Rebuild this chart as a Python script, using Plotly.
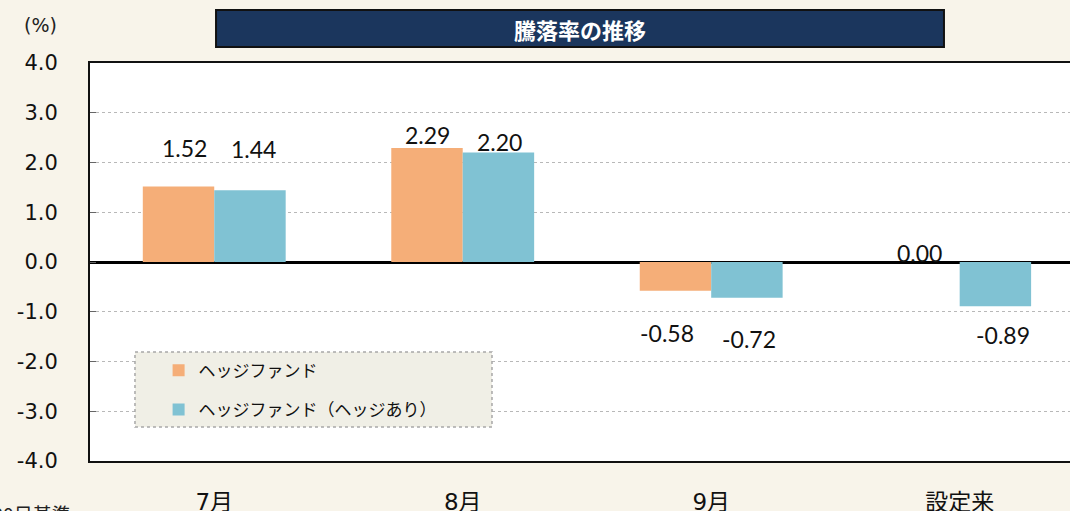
import plotly.graph_objects as go

categories = ["7月", "8月", "9月", "設定来"]
hedge_fund = [1.52, 2.29, -0.58, 0.00]
hedge_fund_hedged = [1.44, 2.20, -0.72, -0.89]
series_names = ["ヘッジファンド", "ヘッジファンド（ヘッジあり）"]
y_ticks = [-4, -3, -2, -1, 0, 1, 2, 3, 4]
y_tick_text = ["-4.0", "-3.0", "-2.0", "-1.0", "0.0", "1.0", "2.0", "3.0", "4.0"]

# label placement styles (pixel offsets)
label_dy_a = [38, 13, -42, 9]
label_dy_b = [41, 11, -41, -29]
label_dx_a = [6, 1, -8, -4]
label_dx_b = [3, 1, 2, 7]

JP = "Noto Sans CJK JP"
LAT = "DejaVu Sans, Noto Sans CJK JP"
NUM = "Lato, Noto Sans CJK JP"

fig = go.Figure()
fig.add_trace(go.Bar(x=categories, y=hedge_fund, name=series_names[0],
                     marker=dict(color="#f5ae78", line=dict(width=0)),
                     legendgroup="a"))
fig.add_trace(go.Bar(x=categories, y=hedge_fund_hedged, name=series_names[1],
                     marker=dict(color="#80c2d3", line=dict(width=0)),
                     legendgroup="b"))

ann = []
for i, c in enumerate(categories):
    ann.append(dict(x=c, y=hedge_fund[i], xref="x", yref="y", text=f"{hedge_fund[i]:.2f}",
                    showarrow=False, xanchor="center", yanchor="middle",
                    xshift=-36 + label_dx_a[i], yshift=label_dy_a[i],
                    font=dict(family=NUM, size=23, color="#111")))
    ann.append(dict(x=c, y=hedge_fund_hedged[i], xref="x", yref="y", text=f"{hedge_fund_hedged[i]:.2f}",
                    showarrow=False, xanchor="center", yanchor="middle",
                    xshift=36 + label_dx_b[i], yshift=label_dy_b[i],
                    font=dict(family=NUM, size=23, color="#111")))

ann.append(dict(x=0.5, y=1.0854, xref="paper", yref="paper", text="<b>騰落率の推移</b>",
                xanchor="center", yanchor="middle",
                showarrow=False, font=dict(family=JP, size=22, color="white")))
ann.append(dict(x=-0.051, y=1.0955, xref="paper", yref="paper", text="(%)",
                xanchor="center", yanchor="middle",
                showarrow=False, font=dict(family=LAT, size=19, color="#222")))
ann.append(dict(x=-0.0174, y=-0.094, xref="paper", yref="paper", text="9月30日基準",
                xanchor="right", yanchor="top",
                showarrow=False, font=dict(family=JP, size=19, color="#222")))
fig.update_layout(annotations=ann)

shapes = [
    dict(type="rect", xref="paper", yref="paper", x0=0.1286, x1=0.8714, y0=1.0402, y1=1.1332,
         fillcolor="#1b365d", line=dict(color="#111", width=2), layer="below"),
    dict(type="rect", xref="paper", yref="paper", x0=0.0459, x1=0.4102, y0=0.0854, y1=0.2739,
         fillcolor="#f0efe6", line=dict(color="#a8a8a8", width=1.5, dash="dot"), layer="above"),
]
fig.update_layout(shapes=shapes)

fig.update_layout(
    width=1070, height=511,
    margin=dict(l=90, r=0, t=63, b=50, autoexpand=False),
    paper_bgcolor="#f8f4ea",
    plot_bgcolor="white",
    barmode="group", bargap=0.425, bargroupgap=0,
    showlegend=True,
    legend=dict(x=0.07, y=0.272, xanchor="left", yanchor="top",
                bgcolor="rgba(0,0,0,0)", borderwidth=0,
                traceorder="grouped", tracegroupgap=14,
                font=dict(family=JP, size=17, color="#111")),
    xaxis=dict(type="category", range=[-0.5, 3.444], showline=True, linecolor="#111",
               linewidth=2, mirror=True, ticks="", showgrid=False, automargin=False,
               tickfont=dict(family=LAT, size=23, color="#111"), ticklabelstandoff=19),
    yaxis=dict(range=[-4, 4], tickvals=y_ticks, ticktext=y_tick_text, showline=True,
               linecolor="#111", linewidth=2, ticks="inside", ticklen=6, tickcolor="#666",
               showgrid=True, gridcolor="#b8b8b8", griddash="dot", gridwidth=1,
               zeroline=True, zerolinecolor="#000", zerolinewidth=3, automargin=False,
               tickfont=dict(family=LAT, size=21, color="#111"), ticklabelstandoff=26),
)

fig.write_html("out.html", config={"displayModeBar": False},
               post_script="document.body.style.margin='0px';document.body.style.padding='0px';document.body.style.overflow='hidden';")
